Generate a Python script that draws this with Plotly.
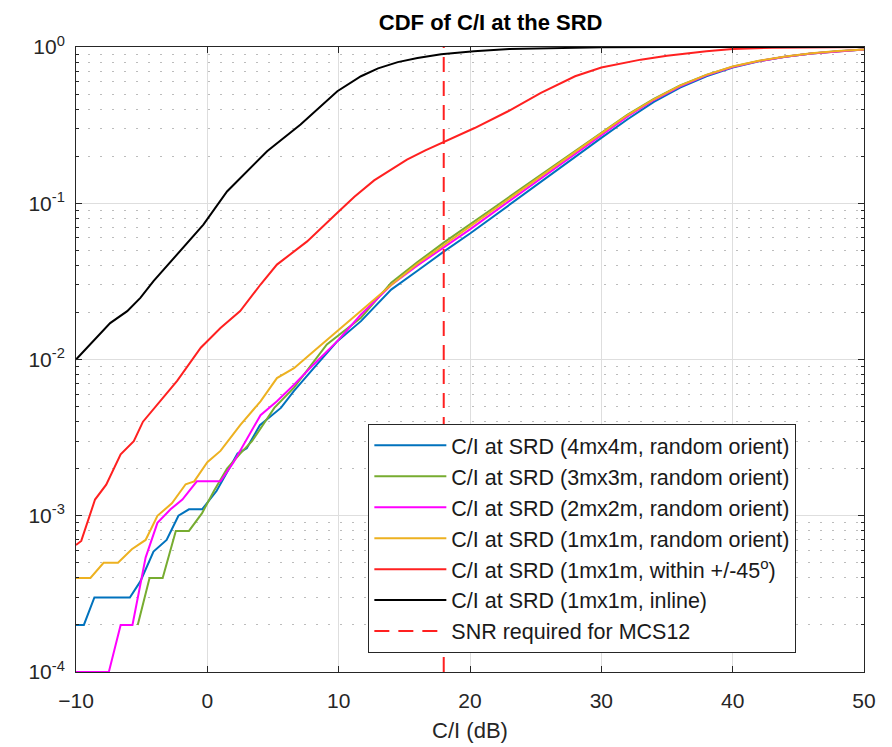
"""CDF of C/I at the SRD - MATLAB-style log plot in Plotly."""

import plotly.graph_objects as go

# ---- data ----
x_4m = [-10, -9.4, -8.6, -5.9, -5.1, -4.1, -3.1, -2.2, -1.4, -0.4, 0.7, 2.3, 3.0, 4.0, 5.6, 6.6, 8.1, 9.9,
        11.7, 14, 16, 18, 20, 22, 24, 26, 28, 30, 32, 34, 36, 38, 40, 42, 44, 46, 48, 50]
y_4m = [2e-4, 2e-4, 3e-4, 3e-4, 3.8e-4, 5.9e-4, 7e-4, 1e-3, 1.1e-3, 1.1e-3, 1.44e-3, 2.5e-3, 2.7e-3, 3.8e-3,
        4.9e-3, 6.3e-3, 8.8e-3, 0.0131, 0.0176, 0.028, 0.037, 0.049, 0.064, 0.085, 0.112, 0.148, 0.197,
        0.262, 0.345, 0.445, 0.55, 0.65, 0.74, 0.81, 0.865, 0.91, 0.94, 0.963]

x_3m = [-5.3, -4.4, -3.4, -2.4, -1.4, -0.4, 0.5, 1.5, 2.5, 3.4, 5.1, 6.6, 9.1, 11.7, 14, 16, 18, 20, 22, 24,
        26, 28, 30, 32, 34, 36, 38, 40, 42, 44, 46, 48, 50]
y_3m = [2e-4, 4e-4, 4e-4, 8e-4, 8e-4, 1.04e-3, 1.44e-3, 2.0e-3, 2.5e-3, 3.0e-3, 4.9e-3, 6.6e-3, 0.0125,
        0.0185, 0.031, 0.042, 0.056, 0.073, 0.096, 0.126, 0.165, 0.215, 0.283, 0.37, 0.465, 0.567, 0.663,
        0.748, 0.815, 0.867, 0.91, 0.94, 0.963]

x_2m = [-10, -7.5, -6.6, -5.7, -4.7, -3.8, -2.8, -1.9, -0.8, 1.0, 2.0, 2.8, 4.05, 5.3, 6.6, 8.1, 9.9, 11.7,
        14, 16, 18, 20, 22, 24, 26, 28, 30, 32, 34, 36, 38, 40, 42, 44, 46, 48, 50]
y_2m = [1e-4, 1e-4, 2e-4, 2e-4, 5.4e-4, 9e-4, 1.1e-3, 1.27e-3, 1.66e-3, 1.66e-3, 2.2e-3, 2.9e-3, 4.4e-3,
        5.4e-3, 6.9e-3, 9.3e-3, 0.0131, 0.0194, 0.030, 0.040, 0.052, 0.068, 0.09, 0.119, 0.157, 0.206,
        0.273, 0.36, 0.458, 0.56, 0.658, 0.745, 0.812, 0.866, 0.91, 0.94, 0.963]

x_1m = [-10, -8.9, -7.9, -6.8, -5.75, -4.7, -3.8, -2.7, -1.65, -1.0, 0, 1.0, 2.5, 4.05, 5.3, 6.6, 8.1, 9.9,
        11.7, 14, 16, 18, 20, 22, 24, 26, 28, 30, 32, 34, 36, 38, 40, 42, 44, 46, 48, 50]
y_1m = [4e-4, 4e-4, 5e-4, 5e-4, 6.1e-4, 7e-4, 1e-3, 1.2e-3, 1.59e-3, 1.66e-3, 2.2e-3, 2.6e-3, 3.8e-3,
        5.4e-3, 7.6e-3, 8.8e-3, 0.0113, 0.0152, 0.0204, 0.030, 0.041, 0.054, 0.071, 0.094, 0.123, 0.162,
        0.212, 0.28, 0.367, 0.463, 0.566, 0.663, 0.75, 0.816, 0.868, 0.912, 0.942, 0.965]

x_45 = [-10, -9.6, -8.55, -7.7, -6.6, -5.6, -4.9, -3.6, -2.3, -0.5, 1.0, 2.5, 4.05, 5.3, 7.6, 9.9, 11.2,
        12.7, 14, 15.2, 16.6, 18.1, 20.35, 22.9, 25.4, 28, 30, 33, 35, 38, 40, 43, 46, 50]
y_45 = [6.5e-4, 6.9e-4, 1.27e-3, 1.58e-3, 2.47e-3, 3.0e-3, 4.0e-3, 5.4e-3, 7.3e-3, 0.0119, 0.0159, 0.0204,
        0.0302, 0.0405, 0.057, 0.087, 0.110, 0.140, 0.165, 0.19, 0.218, 0.249, 0.303, 0.388, 0.508, 0.65,
        0.74, 0.83, 0.88, 0.94, 0.97, 0.99, 0.997, 1.0]

x_inline = [-10, -8.7, -7.4, -6.1, -5.1, -4.1, -2.1, -0.3, 1.5, 4.55, 7.1, 9.9, 11.7, 13, 14.5, 16, 17.8,
            20.3, 23, 26, 30, 35, 40, 50]
y_inline = [0.01, 0.0131, 0.0171, 0.0204, 0.0248, 0.0317, 0.0493, 0.073, 0.119, 0.215, 0.319, 0.521, 0.65,
            0.73, 0.80, 0.85, 0.90, 0.94, 0.97, 0.985, 0.995, 0.999, 1.0, 1.0]

snr_mcs12 = 18
y_span = [1e-4, 1]

x_ticks = [-10, 0, 10, 20, 30, 40, 50]
y_ticks = [1e-4, 1e-3, 1e-2, 1e-1, 1]
y_ticktext = ["10<sup>-4</sup>", "10<sup>-3</sup>", "10<sup>-2</sup>", "10<sup>-1</sup>", "10<sup>0</sup>"]

series = [
    ("C/I at SRD (4mx4m, random orient)", x_4m, y_4m, "#0072BD", "solid"),
    ("C/I at SRD (3mx3m, random orient)", x_3m, y_3m, "#77AC30", "solid"),
    ("C/I at SRD (2mx2m, random orient)", x_2m, y_2m, "#FF00FF", "solid"),
    ("C/I at SRD (1mx1m, random orient)", x_1m, y_1m, "#EDB120", "solid"),
    ("C/I at SRD (1mx1m, within +/-45<sup>o</sup>)", x_45, y_45, "#FF2020", "solid"),
    ("C/I at SRD (1mx1m, inline)", x_inline, y_inline, "#000000", "solid"),
    ("SNR required for MCS12", [snr_mcs12, snr_mcs12], y_span, "#FF2020", "15px,9px"),
]

AXIS_COLOR = "#262626"
FONT = "Liberation Sans, Arial, sans-serif"

fig = go.Figure()
for i, (name, xs, ys, color, dash) in enumerate(series):
    fig.add_trace(go.Scatter(
        x=xs, y=ys, mode="lines", name=name, legendgroup=f"g{i}",
        line=dict(color=color, width=2, dash=dash),
    ))

# page body has an 8px margin, so the figure is drawn 8px smaller and offset
fig.update_layout(
    width=884, height=739,
    paper_bgcolor="white", plot_bgcolor="white",
    font=dict(family=FONT, color=AXIS_COLOR, size=21),
    margin=dict(l=68, r=28, t=39, b=75),
    title=dict(text="<b>CDF of C/I at the SRD</b>", x=0.546, xanchor="center", y=0.981, yanchor="middle",
               font=dict(size=22, color="#000000")),
    legend=dict(
        x=0.371, y=0.397, xanchor="left", yanchor="top",
        bgcolor="white", bordercolor=AXIS_COLOR, borderwidth=1,
        font=dict(size=21.5, color="#1a1a1a"), tracegroupgap=0, itemwidth=72,
    ),
    showlegend=True,
)

fig.update_xaxes(
    range=[-10, 50], tickvals=x_ticks, ticks="inside", ticklen=6, tickcolor=AXIS_COLOR,
    showline=True, linecolor=AXIS_COLOR, linewidth=1, mirror="ticks",
    showgrid=True, gridcolor="#dedede", gridwidth=1, zeroline=False, automargin=False,
    tickfont=dict(size=21), ticklabelstandoff=10,
    title=dict(text="C/I (dB)", font=dict(size=22), standoff=11),
)
fig.update_yaxes(
    type="log", range=[-4, 0], tickvals=y_ticks, ticktext=y_ticktext,
    ticks="inside", ticklen=6, tickcolor=AXIS_COLOR,
    showline=True, linecolor=AXIS_COLOR, linewidth=1, mirror="ticks",
    showgrid=True, gridcolor="#dedede", gridwidth=1, zeroline=False, automargin=False,
    tickfont=dict(size=21), ticklabelstandoff=6,
    minor=dict(dtick="D1", ticks="inside", ticklen=3, tickcolor=AXIS_COLOR,
               showgrid=True, gridcolor="#bcbcbc", griddash="2px,10px", gridwidth=1),
)

fig.write_html("out.html")
